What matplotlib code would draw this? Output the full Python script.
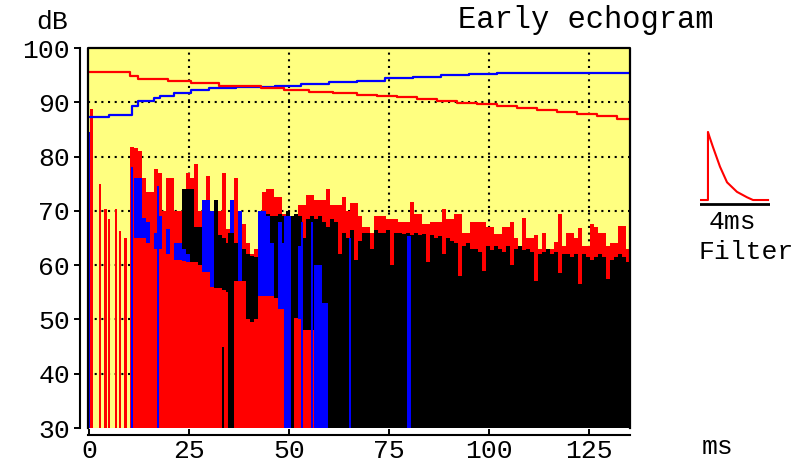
import numpy as np
import matplotlib.pyplot as plt

plt.rcParams['font.family'] = ['Liberation Mono', 'DejaVu Sans Mono']

# ---- echogram data (ms, dB) ----
FLOOR = 30.0

# direct sound + first discrete reflections (0-10 ms)
early_t = [0.6, 2.75, 4.1, 5.0, 6.75, 7.75, 9.1]
early_db = [88.8, 75.0, 70.4, 68.5, 70.4, 66.3, 65.0]

# dense part, 1 ms bins starting at 10.3 ms
dense_start = 10.3
red_top = [81.8, 81.5, 81.0, 76.0, 73.5, 73.5, 77.8, 77.0, 70.0, 76.0,   # 10-19
           76.0, 70.0, 70.0, 70.5, 77.0, 76.0, 78.7, 70.0, 69.5, 76.5,   # 20-29
           70.0, 70.0, 70.0, 77.0, 66.7, 66.7, 76.0, 67.5, 67.5, 64.0,   # 30-39
           62.0, 63.0, 64.0, 73.5, 74.0, 74.0, 72.5, 72.5, 69.5, 69.5,   # 40-49
           69.0, 69.0, 71.0, 71.0, 73.0, 73.0, 72.0, 72.0, 72.0, 74.0,   # 50-59
           71.0, 71.0, 71.0, 72.6, 70.0, 71.5, 71.5, 69.0, 67.0, 67.0,   # 60-69
           66.0, 69.0, 69.0, 69.0, 68.5, 68.5, 68.5, 68.0, 68.0, 68.0,   # 70-79
           71.7, 69.5, 69.5, 67.5, 67.5, 68.0, 68.0, 68.0, 70.4, 68.5,   # 80-89
           68.5, 69.5, 69.5, 66.0, 66.0, 68.0, 68.0, 68.0, 68.0, 67.0,   # 90-99
           67.0, 65.8, 65.8, 67.0, 67.0, 68.0, 65.0, 62.5, 68.6, 65.0,   # 100-109
           65.0, 65.5, 63.0, 66.0, 63.0, 63.0, 64.3, 69.5, 63.5, 65.9,   # 110-119
           65.9, 65.0, 66.8, 63.5, 63.5, 67.6, 67.0, 66.0, 66.0, 63.5,   # 120-129
           64.0, 64.0, 67.2, 67.2, 63.0, 62.0]                           # 130-135

black_start = 22.3
black_top = [62.0, 74.0, 74.0, 74.0, 67.0, 67.0, 66.7, 67.0,             # 22-29
             67.0, 72.0, 65.5, 65.0, 64.0, 66.0, 64.0, 64.0, 63.0, 62.0,  # 30-39
             61.7, 61.5, 69.0, 69.0, 69.5, 69.0, 69.0, 69.5, 69.0, 70.0,  # 40-49
             69.0, 69.5, 69.0, 65.0, 68.5, 69.0, 68.5, 69.0, 68.0, 67.0,  # 50-59
             68.5, 68.0, 62.0, 66.0, 65.0, 66.5, 61.0, 64.5, 66.0, 66.0,  # 60-69
             63.0, 66.5, 66.0, 66.0, 66.5, 60.0, 66.0, 66.0, 65.8, 66.0,  # 70-79
             65.5, 66.0, 65.5, 65.8, 60.5, 65.5, 65.0, 65.4, 62.0, 65.0,  # 80-89
             64.5, 64.0, 58.0, 63.5, 64.0, 63.0, 63.0, 62.5, 59.0, 63.5,  # 90-99
             62.8, 63.5, 63.0, 62.5, 63.5, 60.0, 63.0, 63.5, 62.8, 63.0,  # 100-109
             62.5, 57.0, 62.0, 62.5, 63.0, 62.0, 62.5, 58.5, 62.0, 62.0,  # 110-119
             61.5, 62.0, 56.5, 62.0, 61.5, 61.0, 61.5, 62.0, 61.5, 57.5,  # 120-129
             61.0, 61.5, 62.0, 61.5, 60.5, 61.0]                          # 130-135

blue_top = [30.0, 76.0, 76.0, 68.6, 68.0, 30.0, 66.0, 69.0, 30.0, 66.7,  # 10-19
            30.0, 64.0, 64.0, 63.0, 62.0, 30.0, 30.0, 30.0, 72.0, 72.0,  # 20-29
            70.0, 30.0, 30.0, 30.0, 30.0, 72.0, 30.0, 70.0, 30.0, 30.0,  # 30-39
            30.0, 30.0, 70.0, 70.0, 69.0, 64.0, 30.0, 68.0, 64.0, 69.0,  # 40-49
            30.0, 30.0, 63.6, 30.0, 30.0, 30.0, 60.0, 60.0, 53.0, 30.0]  # 50-59

red_front = [65.0, 65.0, 65.0, 65.0, 64.0, 64.0, 63.0, 63.0, 63.0, 62.0,  # 10-19
             62.0, 61.0, 61.0, 60.7, 60.5, 60.5, 60.6, 60.0, 58.8, 58.8,  # 20-29
             56.0, 55.7, 55.7, 55.5, 55.0, 55.0, 57.0, 57.0, 57.0, 50.0,  # 30-39
             49.6, 50.0, 54.4, 54.4, 54.4, 54.4, 54.0, 52.0, 52.0, 30.0,  # 40-49
             30.0, 50.2, 50.0, 48.0, 48.0, 48.0, 30.0, 47.0, 47.0, 30.0]  # 50-59

# single strong arrivals running down to the floor
blue_line_t = [0.0, 10.8, 17.3, 48.9, 49.4, 49.9, 50.3, 53.2, 55.8,
               57.5, 58.0, 58.5, 59.0, 59.5, 65.3, 79.8, 80.3]
blue_line_db = [84.5, 78.0, 74.6, 69.0, 69.0, 69.0, 69.0, 68.0, 68.0,
                60.0, 60.0, 53.0, 53.0, 53.0, 65.0, 65.3, 65.3]
black_line_t = [33.5, 34.9, 35.4, 35.9]
black_line_db = [45.0, 66.0, 66.0, 66.0]

# cumulative curves
red_cum_t = [0, 10.3, 12.3, 19.8, 25.4, 32.4, 43, 48.7, 55, 61, 67, 72, 77,
             82, 87, 92, 97, 102, 107, 112, 117, 122, 127, 132, 135.3]
red_cum = [95.6, 94.8, 94.3, 93.9, 93.5, 93.0, 92.6, 92.2, 91.9, 91.7, 91.4,
           91.2, 91.0, 90.6, 90.2, 89.9, 89.6, 89.3, 89.0, 88.6, 88.2, 87.8,
           87.4, 87.0, 87.0]
blue_cum_t = [0, 4.9, 10.8, 12.3, 16.1, 17.8, 21.1, 25.4, 30, 36.8, 46.5, 53,
              60, 67, 74, 81, 88, 95, 102, 135.3]
blue_cum = [87.3, 87.7, 89.4, 90.3, 90.8, 91.2, 91.7, 92.2, 92.6, 92.8, 93.0,
            93.4, 93.7, 94.0, 94.4, 94.7, 95.0, 95.2, 95.4, 95.4]

# filter impulse response
filter_t = [-0.53, 0.0, 0.0, 0.1, 0.33, 0.8, 1.27, 1.93, 2.6, 3.0, 4.0]
filter_amp = [0.0, 0.0, 1.0, 0.93, 0.78, 0.49, 0.26, 0.12, 0.04, 0.0, 0.0]

YELLOW = '#FFFF80'
RED = '#FF0000'
BLUE = '#0000FF'


def step_fill(ax, start, vals, color, z):
    edges = start + np.arange(len(vals) + 1)
    y = np.append(vals, vals[-1])
    ax.fill_between(edges, FLOOR, y, step='post', color=color, lw=0, zorder=z)


fig = plt.figure(figsize=(8.12, 4.66), dpi=100)
ax = fig.add_axes([88 / 812, 38 / 466, 542 / 812, 380 / 466])
ax.set_facecolor(YELLOW)
ax.set_xlim(-0.3, 135.3)
ax.set_ylim(30, 100)

# dotted grid
for gx in [25, 50, 75, 100, 125]:
    ax.axvline(gx, color='k', ls=(0, (1, 2.2)), lw=1.5, zorder=1)
for gy in [40, 50, 60, 70, 80, 90]:
    ax.axhline(gy, color='k', ls=(0, (1, 2.2)), lw=1.5, zorder=1)

# echogram bars
ax.bar(early_t, np.array(early_db) - FLOOR, bottom=FLOOR, width=0.6,
       color=RED, lw=0, zorder=2)
step_fill(ax, dense_start, red_top, RED, 2)
step_fill(ax, black_start, black_top, 'black', 3)
step_fill(ax, dense_start, blue_top, BLUE, 4)
step_fill(ax, dense_start, red_front, RED, 5)
ax.bar(black_line_t, np.array(black_line_db) - FLOOR, bottom=FLOOR, width=0.5,
       color='black', lw=0, zorder=6)
ax.bar(blue_line_t, np.array(blue_line_db) - FLOOR, bottom=FLOOR, width=0.5,
       color=BLUE, lw=0, zorder=6)

# cumulative energy curves
ax.step(blue_cum_t, blue_cum, where='post', color=BLUE, lw=1.6, zorder=7)
ax.step(red_cum_t, red_cum, where='post', color=RED, lw=1.6, zorder=8)

# frame around the plot area
ax.plot([0, 0, 1, 1], [0, 1, 1, 0], transform=ax.transAxes, color='k',
        lw=1.6, clip_on=False, zorder=10)

for s in ['top', 'right']:
    ax.spines[s].set_visible(False)
ax.spines['left'].set_position(('outward', 5.8))
ax.spines['bottom'].set_position(('outward', 5.0))
ax.spines['left'].set_linewidth(1.5)
ax.spines['bottom'].set_linewidth(1.5)

ax.set_xticks([0, 25, 50, 75, 100, 125])
ax.set_yticks([30, 40, 50, 60, 70, 80, 90, 100])
ax.tick_params(axis='y', direction='out', length=4, width=1.4, pad=3, labelsize=19)
ax.tick_params(axis='x', direction='in', length=4, width=1.4, pad=3, labelsize=19)

fig.text(52 / 812, 1 - 22 / 466, 'dB', ha='center', va='center', fontsize=19)
fig.text(586 / 812, 1 - 20 / 466, 'Early echogram', ha='center', va='center', fontsize=22)
fig.text(718 / 812, 1 - 447 / 466, 'ms', ha='center', va='center', fontsize=19)
fig.text(732 / 812, 1 - 222 / 466, '4ms', ha='center', va='center', fontsize=19)
fig.text(746 / 812, 1 - 252 / 466, 'Filter', ha='center', va='center', fontsize=19)

# filter response inset
fax = fig.add_axes([700 / 812, (466 - 206) / 466, 70 / 812, 78 / 466])
fax.axis('off')
fax.set_xlim(-0.53, 4.13)
fax.set_ylim(-0.088, 1.058)
fax.plot(filter_t, filter_amp, color=RED, lw=1.5)
fax.axhline(-0.06, color='k', lw=2)

fig.savefig('out.png', dpi=100)
